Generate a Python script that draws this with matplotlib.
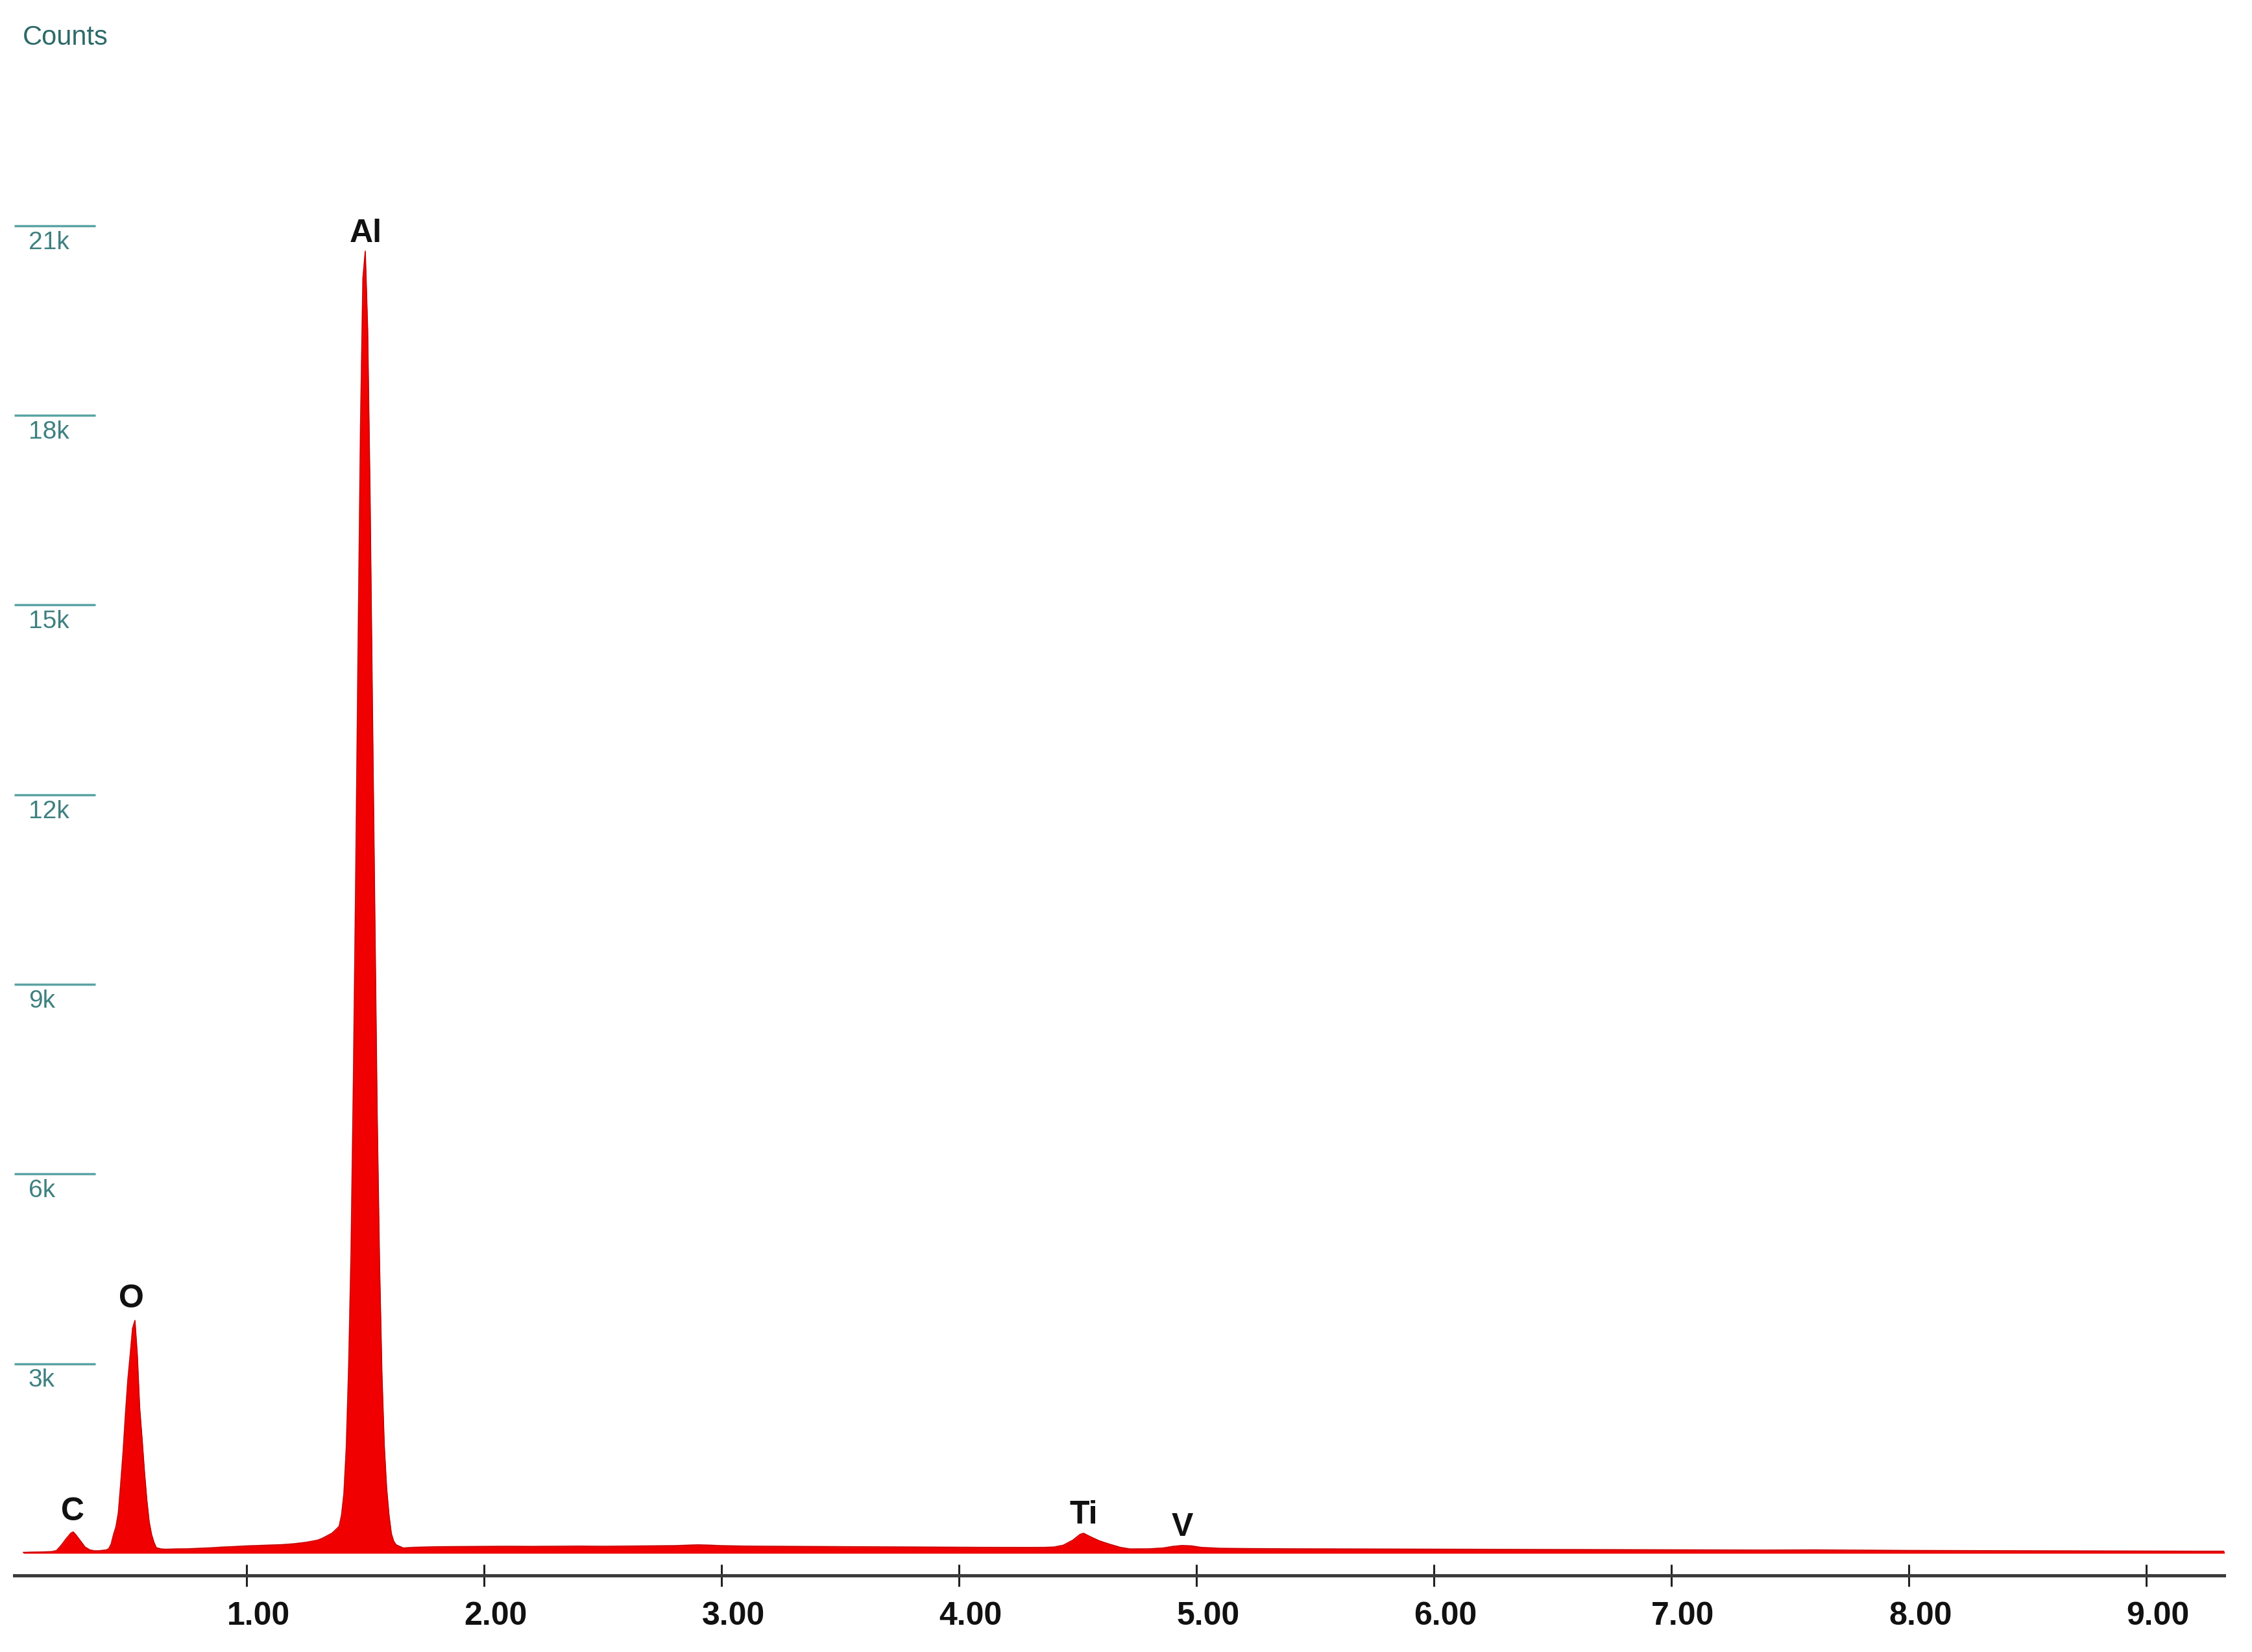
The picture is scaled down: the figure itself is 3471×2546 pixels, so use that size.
import matplotlib
matplotlib.use('Agg')
import matplotlib.pyplot as plt
import matplotlib.transforms as mtransforms
import numpy as np

# spectrum (keV, counts)
energy_kev = [0.06, 0.10, 0.14, 0.18, 0.20, 0.22, 0.24, 0.26, 0.27, 0.28, 0.30, 0.32, 0.34, 0.36, 0.38,
              0.40, 0.41, 0.42, 0.43, 0.44, 0.45, 0.46, 0.47, 0.48, 0.49, 0.50, 0.51, 0.52, 0.53, 0.54,
              0.55, 0.56, 0.57, 0.58, 0.59, 0.60, 0.61, 0.62, 0.64, 0.66, 0.70, 0.75, 0.80, 0.85, 0.90,
              0.95, 1.00, 1.05, 1.10, 1.15, 1.20, 1.25, 1.28, 1.30, 1.32, 1.34, 1.36, 1.38, 1.39, 1.40,
              1.41, 1.42, 1.43, 1.44, 1.45, 1.46, 1.47, 1.48, 1.49, 1.50, 1.51, 1.52, 1.53, 1.54, 1.55,
              1.56, 1.57, 1.58, 1.59, 1.60, 1.61, 1.62, 1.63, 1.66, 1.70, 1.75, 1.80, 1.90, 2.00, 2.10,
              2.20, 2.30, 2.40, 2.50, 2.60, 2.70, 2.80, 2.90, 2.95, 3.00, 3.10, 3.20, 3.30, 3.40, 3.50,
              3.60, 3.70, 3.80, 3.90, 4.00, 4.10, 4.20, 4.30, 4.36, 4.40, 4.44, 4.48, 4.51, 4.525, 4.55,
              4.59, 4.63, 4.68, 4.72, 4.80, 4.86, 4.90, 4.94, 4.98, 5.02, 5.10, 5.20, 5.40, 5.60, 5.80,
              6.00, 6.20, 6.40, 6.60, 6.80, 7.00, 7.20, 7.40, 7.60, 7.80, 8.00, 8.20, 8.40, 8.60, 8.80,
              9.00, 9.20, 9.33]
counts = [15, 20, 22, 28, 45, 130, 230, 320, 339, 300, 200, 100, 55, 40, 42,
          50, 55, 75, 150, 300, 420, 640, 1100, 1600, 2200, 2740, 3140, 3560, 3684, 3140,
          2300, 1820, 1300, 850, 500, 300, 175, 90, 70, 65, 70, 72, 80, 88, 100,
          108, 118, 125, 132, 138, 152, 175, 195, 210, 240, 280, 320, 390, 430, 605,
          945, 1670, 2950, 4750, 7490, 10776, 14430, 17847, 20166, 20597, 19366, 16800, 13434, 10200, 6980,
          4600, 2860, 1710, 1030, 605, 310, 190, 135, 85, 95, 100, 105, 108, 110, 112,
          110, 112, 115, 112, 115, 118, 122, 135, 130, 122, 115, 112, 110, 108, 105,
          104, 102, 100, 98, 96, 95, 94, 94, 95, 100, 130, 210, 300, 318, 270,
          200, 150, 95, 70, 72, 85, 110, 125, 118, 95, 80, 76, 72, 70, 68,
          66, 64, 62, 60, 58, 56, 54, 52, 55, 50, 46, 44, 42, 40, 38,
          36, 34, 34]

peak_labels = ['C', 'O', 'Al', 'Ti', 'V']
peak_label_kev = [0.268, 0.514, 1.503, 4.525, 4.94]
peak_label_y = [523, 3890, 20741, 472, 277]

x_ticks = [1, 2, 3, 4, 5, 6, 7, 8, 9]
x_tick_labels = ['1.00', '2.00', '3.00', '4.00', '5.00', '6.00', '7.00', '8.00', '9.00']
y_ticks = [3000, 6000, 9000, 12000, 15000, 18000, 21000]
y_tick_labels = ['3k', '6k', '9k', '12k', '15k', '18k', '21k']

W, H = 3471, 2546
fig = plt.figure(figsize=(W / 100, H / 100), dpi=100)
fig.patch.set_facecolor('white')

narrow = ['Liberation Sans Narrow', 'DejaVu Sans Condensed', 'Liberation Sans']

ax = fig.add_axes([22 / W, (H - 2428) / H, (3428 - 22) / W, 2428 / H])
ax.set_xlim(0.0219, 9.328)
ax.set_ylim(-349, 24569)

ax.fill_between(energy_kev, counts, 0, color='#f00000', linewidth=0)
ax.plot(energy_kev, counts, color='#c80000', linewidth=1.2)

for spine in ['left', 'top', 'right']:
    ax.spines[spine].set_visible(False)
ax.spines['bottom'].set_color('#3c3c3c')
ax.spines['bottom'].set_linewidth(3.6)

ax.set_yticks([])
ax.set_xticks(x_ticks)
ax.set_xticklabels(x_tick_labels, family=narrow, stretch='condensed', fontweight='bold',
                   fontsize=36, color='#111111')
ax.tick_params(axis='x', direction='inout', length=25, width=2.2, color='#222222', pad=16)
shift = mtransforms.ScaledTranslation(18 / 100, 0, fig.dpi_scale_trans)
for lbl in ax.get_xticklabels():
    lbl.set_transform(lbl.get_transform() + shift)

# y scale marks: teal lines with the label under each line
trans = mtransforms.blended_transform_factory(ax.transAxes, ax.transData)
ax.hlines(y_ticks, 0, (147 - 22) / (3428 - 22), transform=trans, color='#5aa3a3', linewidth=2.5)
for val, txt in zip(y_ticks, y_tick_labels):
    ax.text((44 - 22) / (3428 - 22), val - 80, txt, transform=trans, ha='left', va='top',
            family=narrow, stretch='condensed', fontsize=28, color='#3f8080')

fig.text(35 / W, 1 - 38 / H, 'Counts', ha='left', va='top', family=narrow, stretch='condensed',
         fontsize=30, color='#2e6a6a')

for name, xk, yk in zip(peak_labels, peak_label_kev, peak_label_y):
    ax.text(xk, yk, name, ha='center', va='baseline', family=narrow, stretch='condensed',
            fontweight='bold', fontsize=36, color='#111111')

fig.savefig('out.png', dpi=100, facecolor='white')
